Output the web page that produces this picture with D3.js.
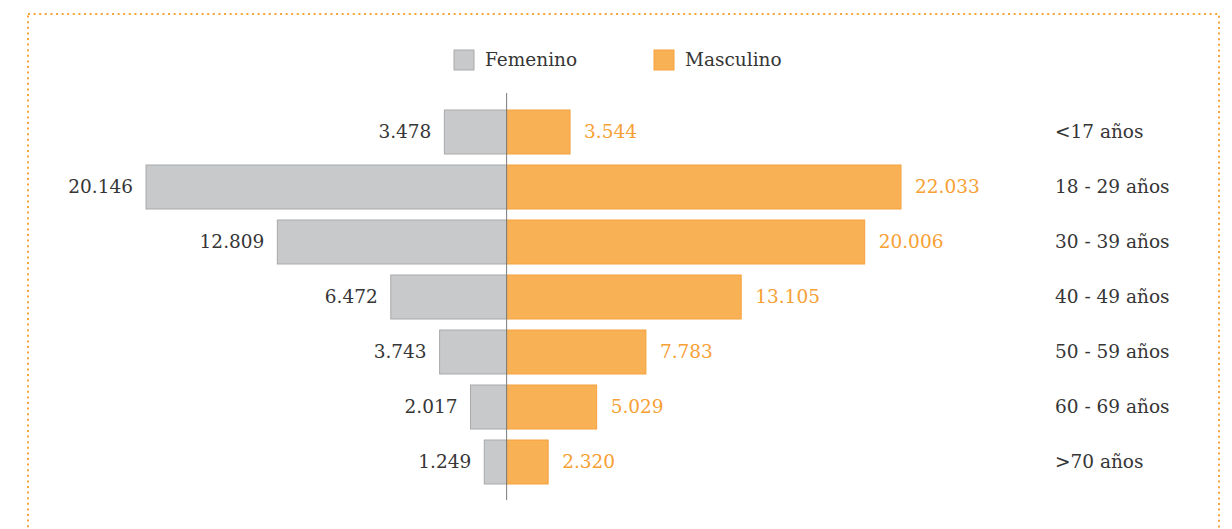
<!DOCTYPE html>
<html>
<head>
<meta charset="utf-8">
<script src="https://cdn.jsdelivr.net/npm/d3@7"></script>
<style>
  body { margin: 0; background: #fff; }
  svg text { font-family: "DejaVu Serif", serif; }
</style>
</head>
<body>
<div id="chart"></div>
<script>
//size of the svg
var width = 1232;
var height = 529;

//age groups (top to bottom)
var categories = ["<17 años", "18 - 29 años", "30 - 39 años", "40 - 49 años",
                  "50 - 59 años", "60 - 69 años", ">70 años"];
//values per group
var femenino = [3478, 20146, 12809, 6472, 3743, 2017, 1249];
var masculino = [3544, 22033, 20006, 13105, 7783, 5029, 2320];
//legend entries
var seriesNames = ["Femenino", "Masculino"];

var greyFill = "#c8c9cb", greyStroke = "#a8a9ab";
var orangeFill = "#f9b156", orangeStroke = "#f5a23e";
var orangeText = "#f7a033", darkText = "#363636";
var fontSize = 18.5;

var svg = d3.select("#chart")
            .append("svg")
            .attr("width", width)
            .attr("height", height);

//dotted frame
svg.append("rect")
   .attr("x", 28)
   .attr("y", 14)
   .attr("width", 1191)
   .attr("height", 600)
   .attr("fill", "none")
   .attr("stroke", "#f9a43a")
   .attr("stroke-width", 2)
   .attr("stroke-dasharray", "2 3.6");

//scales: left side femenino, right side masculino
var xScale = d3.scaleLinear()
               .domain([-20146, 22033])
               .range([146, 901]);

var yScale = d3.scaleBand()
               .domain(categories)
               .range([99, 495])
               .padding(0.2);

var rows = categories.map(function(c, i) {
  return {cat: c, f: femenino[i], m: masculino[i]};
});

//femenino bars
svg.selectAll("rect.fem")
   .data(rows)
   .enter()
   .append("rect")
   .attr("class", "fem")
   .attr("x", function(d) { return xScale(-d.f); })
   .attr("y", function(d) { return yScale(d.cat); })
   .attr("width", function(d) { return xScale(0) - xScale(-d.f); })
   .attr("height", yScale.bandwidth())
   .attr("fill", greyFill)
   .attr("stroke", greyStroke);

//masculino bars
svg.selectAll("rect.mas")
   .data(rows)
   .enter()
   .append("rect")
   .attr("class", "mas")
   .attr("x", xScale(0))
   .attr("y", function(d) { return yScale(d.cat); })
   .attr("width", function(d) { return xScale(d.m) - xScale(0); })
   .attr("height", yScale.bandwidth())
   .attr("fill", orangeFill)
   .attr("stroke", orangeStroke);

//center line
svg.append("line")
   .attr("x1", xScale(0))
   .attr("x2", xScale(0))
   .attr("y1", 93)
   .attr("y2", 500)
   .attr("stroke", "#7a7a7a")
   .attr("stroke-width", 1);

var fmt = d3.format(",");
function label(v) { return fmt(v).replace(/,/g, "."); }

//value labels
svg.selectAll("text.fval")
   .data(rows)
   .enter()
   .append("text")
   .attr("x", function(d) { return xScale(-d.f) - 13; })
   .attr("y", function(d) { return yScale(d.cat) + yScale.bandwidth() / 2; })
   .attr("dy", "0.35em")
   .attr("text-anchor", "end")
   .attr("font-size", fontSize)
   .attr("fill", darkText)
   .text(function(d) { return label(d.f); });

svg.selectAll("text.mval")
   .data(rows)
   .enter()
   .append("text")
   .attr("x", function(d) { return xScale(d.m) + 14; })
   .attr("y", function(d) { return yScale(d.cat) + yScale.bandwidth() / 2; })
   .attr("dy", "0.35em")
   .attr("font-size", fontSize)
   .attr("fill", orangeText)
   .text(function(d) { return label(d.m); });

//category labels on the right
svg.selectAll("text.cat")
   .data(categories)
   .enter()
   .append("text")
   .attr("x", 1055)
   .attr("y", function(d) { return yScale(d) + yScale.bandwidth() / 2; })
   .attr("dy", "0.35em")
   .attr("font-size", fontSize)
   .attr("fill", darkText)
   .text(function(d) { return d; });

//legend
var legend = svg.selectAll("g.legend")
                .data(seriesNames)
                .enter()
                .append("g")
                .attr("transform", function(d, i) {
                  return "translate(" + (454 + i * 200) + ", 50)";
                });
legend.append("rect")
      .attr("width", 20)
      .attr("height", 20)
      .attr("fill", function(d, i) { return i ? orangeFill : greyFill; })
      .attr("stroke", function(d, i) { return i ? orangeStroke : greyStroke; });
legend.append("text")
      .attr("x", 31)
      .attr("y", 10)
      .attr("dy", "0.35em")
      .attr("font-size", fontSize)
      .attr("fill", darkText)
      .text(function(d) { return d; });
</script>
</body>
</html>
